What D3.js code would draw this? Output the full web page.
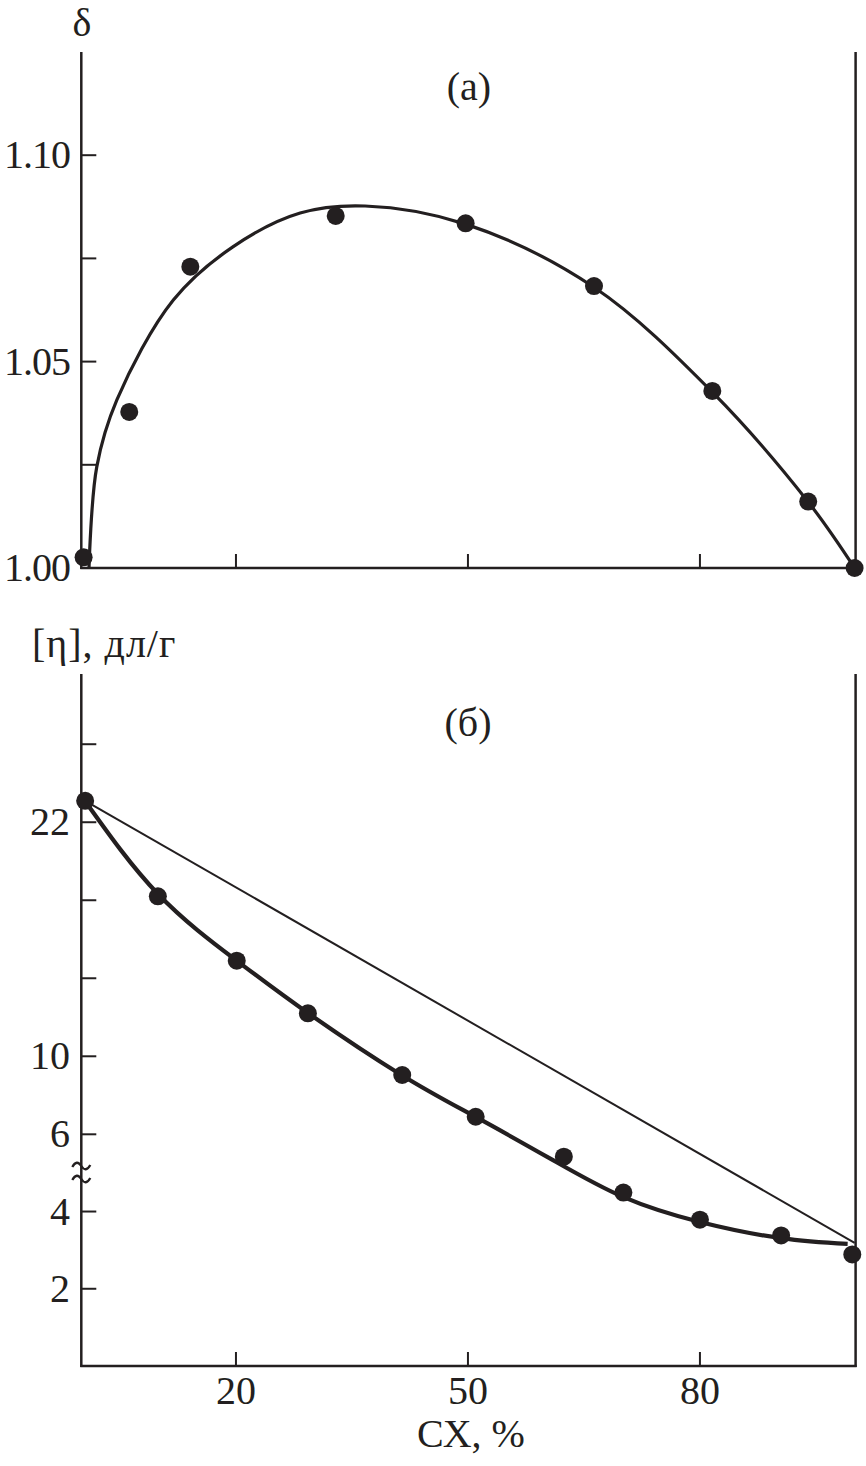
<!DOCTYPE html>
<html>
<head>
<meta charset="utf-8">
<script src="https://cdn.jsdelivr.net/npm/d3@7"></script>
<style>
  html, body { margin: 0; padding: 0; background: #fff; }
  svg { display: block; }
  text { font-family: "Liberation Serif", "Times New Roman", serif; fill: #231f20; }
</style>
</head>
<body>
<script>
// ---------- data ----------
const xTicks = [20, 50, 80];
const xTickLabels = ["20", "50", "80"];

// panel (a): delta vs CX
const topYTicks = [1.00, 1.025, 1.05, 1.075, 1.10];
const topYLabels = ["1.00", "", "1.05", "", "1.10"];
const topPointsX = [0.3, 6.2, 14.1, 32.9, 49.7, 66.3, 81.6, 94.0, 100];
const topPointsY = [1.0026, 1.0378, 1.0730, 1.0853, 1.0835, 1.0683, 1.0429, 1.0161, 1.0];
// fitted curve (a)
const topCurveX = [1.0, 2.0, 4.6, 11.9, 19.6, 28.3, 36.7, 49.7, 66.3, 81.6, 94.0, 100];
const topCurveY = [1.000, 1.0245, 1.0407, 1.0649, 1.0778, 1.0860, 1.0877, 1.0833, 1.0680, 1.0426, 1.0160, 1.0];

// panel (б): [η] vs CX
const botYTicks = [2, 4, 6, 10, 14, 18, 22, 26];
const botYLabels = ["2", "4", "6", "10", "", "", "22", ""];
const botPointsX = [0.5, 9.9, 20.1, 29.3, 41.5, 51.0, 62.4, 70.1, 80.0, 90.5, 99.7];
const botPointsY = [23.1, 18.2, 14.9, 12.2, 9.04, 6.9, 5.42, 4.49, 3.79, 3.38, 2.89];
// fitted curve (б)
const botCurveX = [0.48, 9.92, 20.13, 29.3, 41.4, 51.0, 61.0, 70.05, 80.0, 90.5, 99.1];
const botCurveY = [23.09, 18.32, 14.89, 12.22, 9.04, 6.89, 5.33, 4.38, 3.73, 3.31, 3.16];
// additivity line
const addLineX = [0.5, 100];
const addLineY = [23.1, 3.19];

// ---------- drawing ----------
const W = 866, H = 1466;
const ink = "#231f20";
const svg = d3.select("body").append("svg").attr("width", W).attr("height", H);

const x = d3.scaleLinear().domain([0, 100]).range([81.3, 854.6]);
const yTop = d3.scaleLinear().domain([1.0, 1.125]).range([568, 52]);
// broken axis: lower segment 0..6 stretched, upper 6..29.6
const yBot = d3.scaleLinear().domain([0, 6, 29.6]).range([1366, 1134.3, 674]);

const FS = 40;

function frame(yScale, yBottomVal, yTopVal) {
  const g = svg.append("g");
  const y0 = yScale(yBottomVal), y1 = yScale(yTopVal);
  g.append("line").attr("x1", x(0)).attr("x2", x(0)).attr("y1", y0 + 1).attr("y2", y1)
    .attr("stroke", ink).attr("stroke-width", 2.5);
  g.append("line").attr("x1", x(100) + 1).attr("x2", x(100) + 1).attr("y1", y0 + 1).attr("y2", y1)
    .attr("stroke", ink).attr("stroke-width", 2.5);
  g.append("line").attr("x1", x(0) - 1).attr("x2", x(100) + 2).attr("y1", y0).attr("y2", y0)
    .attr("stroke", ink).attr("stroke-width", 2.5);
  g.selectAll(".xt").data(xTicks).enter().append("line")
    .attr("x1", d => x(d)).attr("x2", d => x(d)).attr("y1", y0).attr("y2", y0 - 14)
    .attr("stroke", ink).attr("stroke-width", 2);
  return g;
}

const lineGen = (xs, ys, ysScale, curve) => d3.line()
  .x((d, i) => x(xs[i])).y((d, i) => ysScale(ys[i])).curve(curve)(xs);

// ----- panel (a) -----
const gA = frame(yTop, 1.0, 1.125);
gA.selectAll(".yt").data(topYTicks).enter().append("line")
  .attr("x1", x(0)).attr("x2", x(0) + 15).attr("y1", d => yTop(d)).attr("y2", d => yTop(d))
  .attr("stroke", ink).attr("stroke-width", 2);
gA.selectAll(".yl").data(topYTicks).enter().append("text")
  .attr("x", 70).attr("y", d => yTop(d) + 13).attr("text-anchor", "end")
  .attr("font-size", FS).attr("letter-spacing", -1).text((d, i) => topYLabels[i]);
svg.append("text").attr("x", 82).attr("y", 36).attr("text-anchor", "middle")
  .attr("font-size", FS).text("δ");
svg.append("text").attr("x", 469).attr("y", 100).attr("text-anchor", "middle")
  .attr("font-size", FS).text("(a)");

svg.append("path").attr("d", lineGen(topCurveX, topCurveY, yTop, d3.curveCatmullRom.alpha(0.5)))
  .attr("fill", "none").attr("stroke", ink).attr("stroke-width", 3.2);
svg.selectAll(".pa").data(topPointsX).enter().append("circle")
  .attr("cx", d => x(d)).attr("cy", (d, i) => yTop(topPointsY[i])).attr("r", 9).attr("fill", ink);

// ----- panel (б) -----
const gB = frame(yBot, 0, 29.6);
gB.selectAll(".yt").data(botYTicks).enter().append("line")
  .attr("x1", x(0)).attr("x2", x(0) + 15).attr("y1", d => yBot(d)).attr("y2", d => yBot(d))
  .attr("stroke", ink).attr("stroke-width", 2);
gB.selectAll(".yl").data(botYTicks).enter().append("text")
  .attr("x", 70).attr("y", d => yBot(d) + 13).attr("text-anchor", "end")
  .attr("font-size", FS).text((d, i) => botYLabels[i]);
gB.selectAll(".xl").data(xTicks).enter().append("text")
  .attr("x", d => x(d)).attr("y", 1404).attr("text-anchor", "middle")
  .attr("font-size", FS).text((d, i) => xTickLabels[i]);

// axis break marks
[1166, 1179].forEach(yy => {
  svg.append("path")
    .attr("d", `M${x(0) - 9},${yy + 1} q4.5,-8 9,-1 t9,-1`)
    .attr("fill", "none").attr("stroke", ink).attr("stroke-width", 2.3);
});

svg.append("text").attr("x", 32).attr("y", 657).attr("text-anchor", "start")
  .attr("font-size", FS).attr("letter-spacing", 1).text("[η], дл/г");
svg.append("text").attr("x", 468).attr("y", 736).attr("text-anchor", "middle")
  .attr("font-size", FS).text("(б)");
svg.append("text").attr("x", 471).attr("y", 1447).attr("text-anchor", "middle")
  .attr("font-size", FS).text("СХ, %");

svg.append("path").attr("d", lineGen(addLineX, addLineY, yBot, d3.curveLinear))
  .attr("fill", "none").attr("stroke", ink).attr("stroke-width", 2);
svg.append("path").attr("d", lineGen(botCurveX, botCurveY, yBot, d3.curveNatural))
  .attr("fill", "none").attr("stroke", ink).attr("stroke-width", 4.2);
svg.selectAll(".pb").data(botPointsX).enter().append("circle")
  .attr("cx", d => x(d)).attr("cy", (d, i) => yBot(botPointsY[i])).attr("r", 9).attr("fill", ink);
</script>
</body>
</html>
